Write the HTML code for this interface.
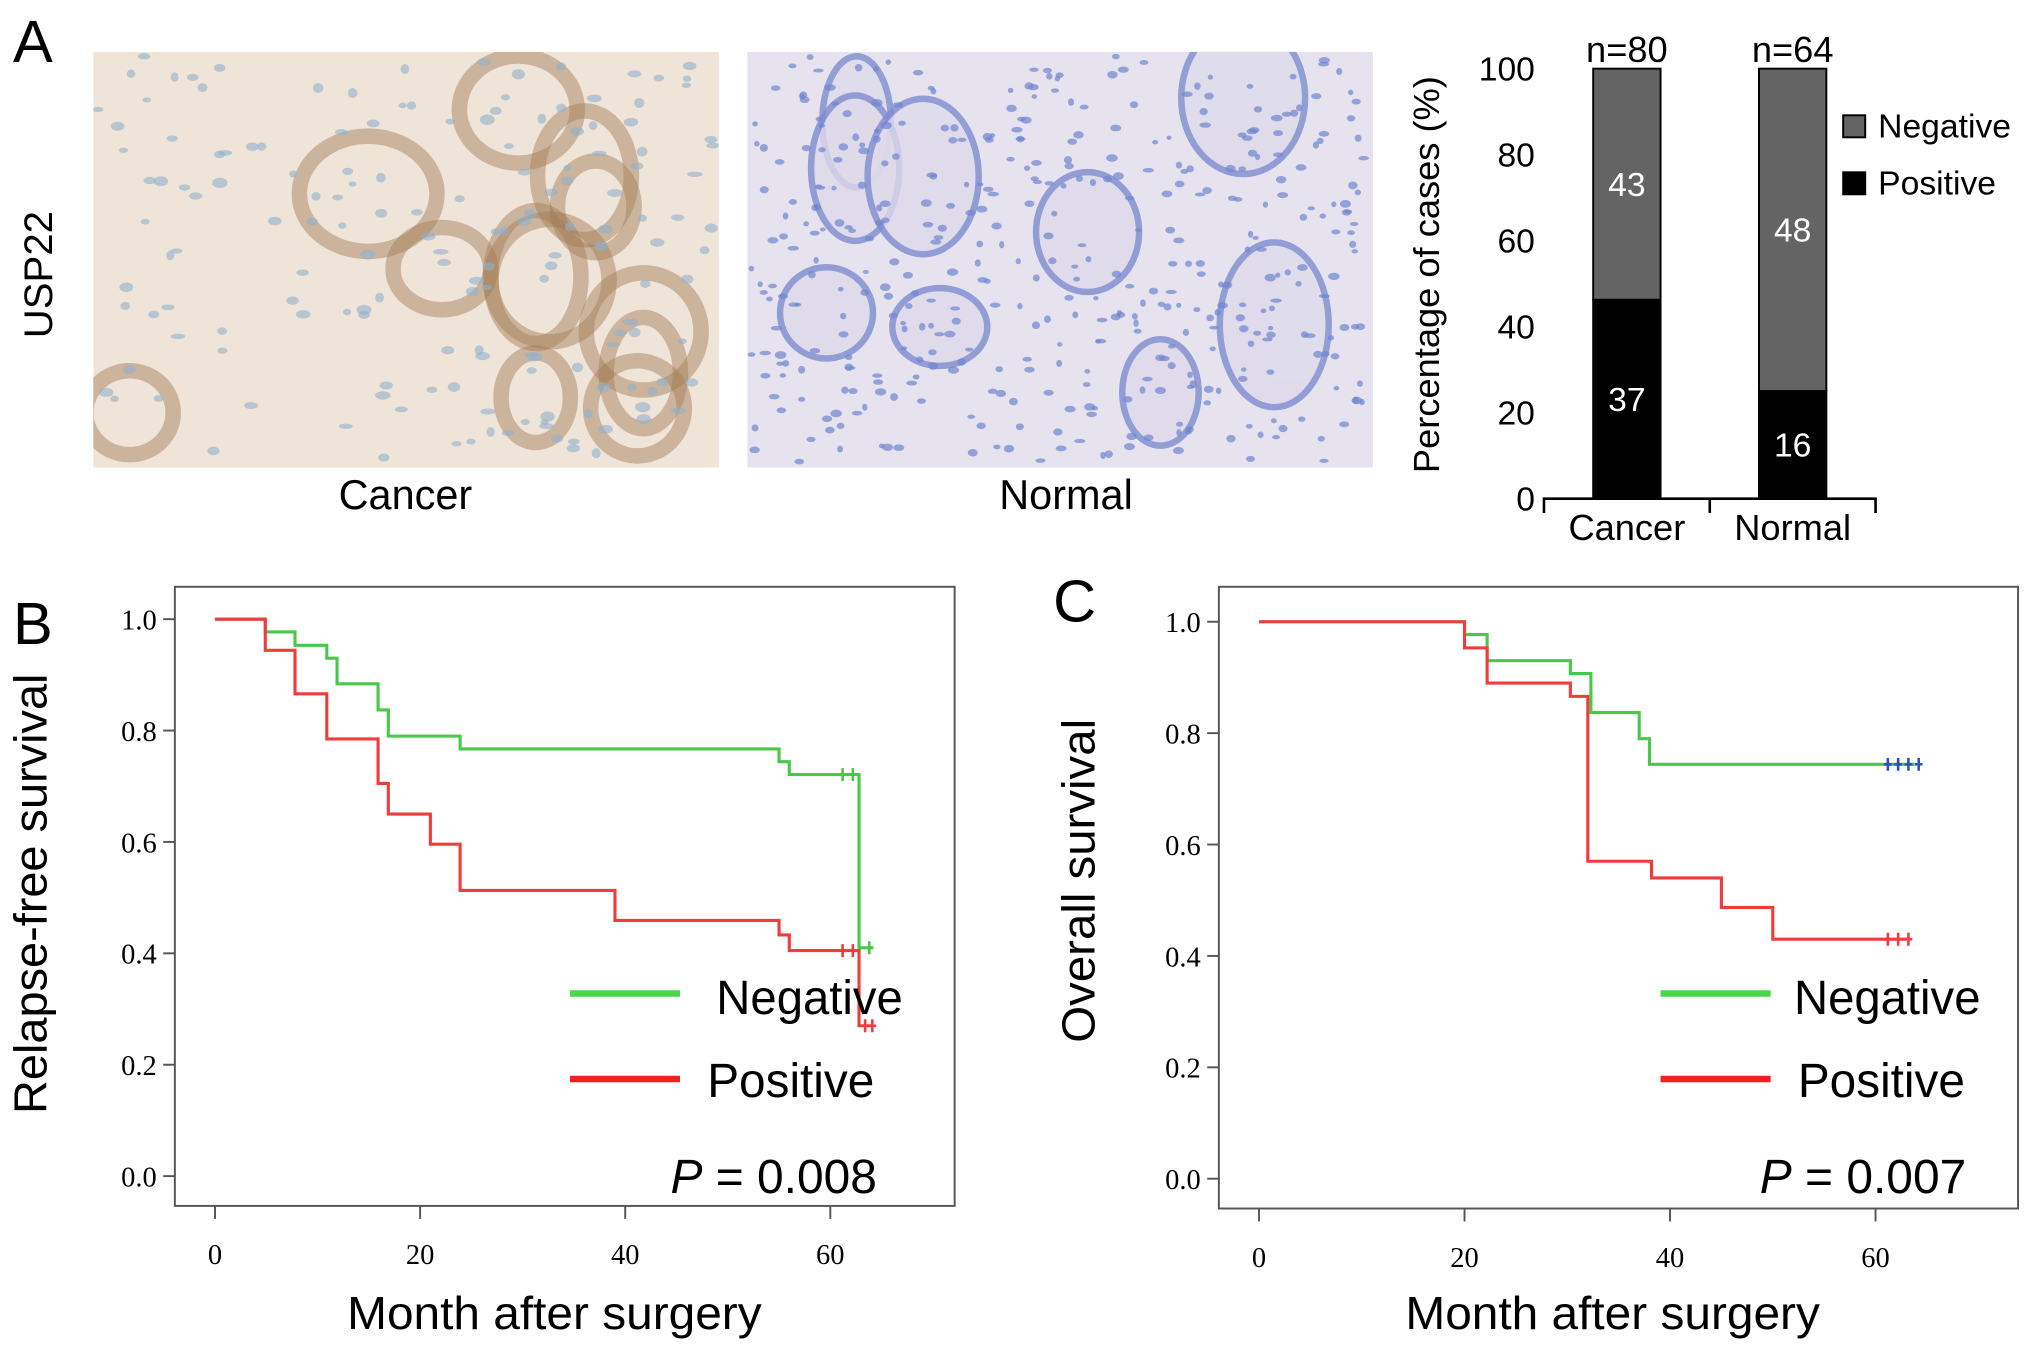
<!DOCTYPE html>
<html><head><meta charset="utf-8"><style>
html,body{margin:0;padding:0;background:#fff;}
svg{display:block;}
text{font-family:"Liberation Sans",sans-serif;}
.serif{font-family:"Liberation Serif",serif;}
</style></head><body>
<svg id="fig" width="2031" height="1351" viewBox="0 0 1568 1043" xmlns="http://www.w3.org/2000/svg">
<defs>
<clipPath id="clipC"><rect x="72" y="40" width="483" height="321"/></clipPath>
<clipPath id="clipN"><rect x="577" y="40" width="483" height="321"/></clipPath>
</defs>
<rect x="0" y="0" width="1568" height="1043" fill="#fff"/>
<text x="10" y="48" font-size="46">A</text>
<text transform="translate(40,212) rotate(-90)" text-anchor="middle" font-size="31">USP22</text>
<g id="cancerImg" clip-path="url(#clipC)"><rect x="72" y="40" width="483" height="321" fill="#efe4d8"/></g>
<g id="normalImg" clip-path="url(#clipN)"><rect x="577" y="40" width="483" height="321" fill="#e6e3ee"/></g>
<text x="313" y="393" text-anchor="middle" font-size="32">Cancer</text>
<text x="823" y="393" text-anchor="middle" font-size="32">Normal</text>
<g id="bar"></g>
<text x="10" y="497" font-size="46">B</text>
<g id="kmB"></g>
<text x="813" y="480" font-size="46">C</text>
<g id="kmC"></g>
</svg>
<script>
// ===== Bar chart data =====
const barCategories = ["Cancer","Normal"];
const barTotals = [80,64];
const barPositive = [37,16];
const barNegative = [43,48];
const barTicks = [0,20,40,60,80,100];

// ===== KM panel B data =====
const bTimesNeg = [0,4.9,7.8,10.9,11.9,15.9,16.9,23.9,55,56,62.8,64.2];
const bSurvNeg  = [1.0,0.977,0.953,0.93,0.884,0.837,0.79,0.767,0.744,0.721,0.41,0.41];
const bCensNeg  = [61.2,62.2,63.8];
const bCensNegS = [0.721,0.721,0.41];
const bTimesPos = [0,4.9,7.8,10.9,15.9,16.9,21,23.9,39,55,56,62.8,64.2];
const bSurvPos  = [1.0,0.944,0.866,0.785,0.705,0.65,0.596,0.513,0.459,0.433,0.405,0.27,0.27];
const bCensPos  = [61.2,62.2,63.4,64.1];
const bCensPosS = [0.405,0.405,0.27,0.27];

// ===== KM panel C data =====
const cTimesNeg = [0,20,22.2,30.3,32.3,37,38,63.8];
const cSurvNeg  = [1.0,0.977,0.93,0.907,0.837,0.79,0.744,0.744];
const cCensNeg  = [61.2,62.2,63.2,64.2];
const cCensNegS = [0.744,0.744,0.744,0.744];
const cTimesPos = [0,20,22.2,30.3,32,38.2,45,50,63];
const cSurvPos  = [1.0,0.953,0.89,0.866,0.57,0.54,0.487,0.43,0.43];
const cCensPos  = [61.2,62.2,63.2];
const cCensPosS = [0.43,0.43,0.43];

const xTicks = [0,20,40,60];
const yTicks = [0.0,0.2,0.4,0.6,0.8,1.0];

const NS="http://www.w3.org/2000/svg";
function mk(tag, attrs, parent){const e=document.createElementNS(NS,tag);for(const k in attrs)e.setAttribute(k,attrs[k]);parent.appendChild(e);return e;}

// decorative tissue textures (deterministic)
(function(){
  let seed=7;function r(){seed=(seed*16807)%2147483647;return seed/2147483647;}
  const c=document.getElementById('cancerImg');
  for(let i=0;i<12;i++){const cx=100+r()*430,cy=70+r()*270;
    const g=mk('ellipse',{cx:cx,cy:cy,rx:25+r()*30,ry:25+r()*35,fill:'none',stroke:'#a27a55','stroke-width':12,opacity:0.45},c);
    
    }
  for(let i=0;i<160;i++){const e=mk('ellipse',{cx:75+r()*477,cy:43+r()*315,rx:3+r()*3,ry:2+r()*2,fill:'#8fb0cc',opacity:0.6},c);
    
    }
  const n=document.getElementById('normalImg');
  for(let i=0;i<9;i++){const cx=610+r()*420,cy=70+r()*270;
    const g=mk('ellipse',{cx:cx,cy:cy,rx:25+r()*25,ry:30+r()*40,fill:'#dedaea',stroke:'#7f8ccf','stroke-width':5,opacity:0.8},n);
    
    }
  for(let i=0;i<420;i++){const e=mk('ellipse',{cx:580+r()*477,cy:43+r()*315,rx:2+r()*2.5,ry:1.5+r()*1.5,fill:'#6f84d0',opacity:0.7},n);
    
    }
})();

// ===== Bar chart =====
(function(){
  const g=document.getElementById('bar');
  const y0=385,y100=53,base=1192,step=128,bw=52;
  const ys=v=>y0-(y0-y100)*v/100;
  barTicks.forEach(t=>{const e=mk('text',{x:1185,y:ys(t)+9,'text-anchor':'end','font-size':26},g);e.textContent=t;
    
    });
  const ax=mk('path',{d:`M${base} ${y0+11}V${y0}H${base+2*step}V${y0+11}M${base+step} ${y0}V${y0+11}`,fill:'none',stroke:'#000','stroke-width':2},g);
  
  
  barCategories.forEach((c,i)=>{
    const cx=base+step*i+step/2, x=cx-bw/2;
    const pp=barPositive[i]/barTotals[i]*100;
    const neg=mk('rect',{x:x,y:y100,width:bw,height:ys(pp)-y100,fill:'#646464',stroke:'#000','stroke-width':1.5},g);
    
    
    const pos=mk('rect',{x:x,y:ys(pp),width:bw,height:y0-ys(pp),fill:'#000',stroke:'#000','stroke-width':1.5},g);
    
    
    const t1=mk('text',{x:cx,y:(y100+ys(pp))/2+9,'text-anchor':'middle','font-size':26,fill:'#fff'},g);t1.textContent=barNegative[i];
    
    
    const t2=mk('text',{x:cx,y:(ys(pp)+y0)/2+9,'text-anchor':'middle','font-size':26,fill:'#fff'},g);t2.textContent=barPositive[i];
    
    
    const tn=mk('text',{x:cx,y:y100-5,'text-anchor':'middle','font-size':28},g);tn.textContent='n='+barTotals[i];
    
    
    const tc=mk('text',{x:cx,y:417,'text-anchor':'middle','font-size':28},g);tc.textContent=c;
    
    
  });
  const yt=mk('text',{transform:'translate(1111,212) rotate(-90)','text-anchor':'middle','font-size':28},g);yt.textContent='Percentage of cases (%)';
  
  
  [['Negative','#646464',89],['Positive','#000',133]].forEach(([l,f,y])=>{
    const s=mk('rect',{x:1423,y:y,width:17,height:17,fill:f,stroke:'#000','stroke-width':1.5},g);
    
    
    const t=mk('text',{x:1450,y:y+17,'font-size':26},g);t.textContent=l;
    
    
  });
})();

// ===== KM charts =====
function km(gid,cfg){
  const g=document.getElementById(gid);
  const xs=m=>cfg.x0+m*cfg.px; const ys=s=>cfg.y0-s*cfg.py;
  const fr=mk('rect',{x:cfg.bx,y:cfg.by,width:cfg.bw,height:cfg.bh,fill:'none',stroke:'#555','stroke-width':1.5},g);
  
  
  yTicks.forEach(t=>{
    const l=mk('line',{x1:cfg.bx-9,x2:cfg.bx,y1:ys(t),y2:ys(t),stroke:'#555','stroke-width':1.5},g);
    
    
    const e=mk('text',{x:cfg.bx-14,y:ys(t)+8,'text-anchor':'end','font-size':22,class:'serif'},g);e.textContent=t.toFixed(1);
    
    
  });
  xTicks.forEach(t=>{
    const l=mk('line',{x1:xs(t),x2:xs(t),y1:cfg.by+cfg.bh,y2:cfg.by+cfg.bh+10,stroke:'#555','stroke-width':1.5},g);
    
    
    const e=mk('text',{x:xs(t),y:cfg.by+cfg.bh+45,'text-anchor':'middle','font-size':22,class:'serif'},g);e.textContent=t;
    
    
  });
  function curve(T,S,CT,CS,color,ccolor,name){
    let d=`M${xs(T[0])} ${ys(S[0])}`;
    for(let i=1;i<T.length;i++){d+=`H${xs(T[i])}V${ys(S[i])}`;}
    const p=mk('path',{d:d,fill:'none',stroke:color,'stroke-width':2.4},g);
    
    
    CT.forEach((t,i)=>{
      const c=mk('path',{d:`M${xs(t)} ${ys(CS[i])-5}v10M${xs(t)-3} ${ys(CS[i])}h6`,stroke:ccolor,'stroke-width':2},g);
      
      
    });
  }
  curve(cfg.tn,cfg.sn,cfg.cn,cfg.cns,'#48c848',cfg.negCens,'negative');
  curve(cfg.tp,cfg.sp,cfg.cp,cfg.cps,'#f03c3c','#f03c3c','positive');
  const xt=mk('text',{x:cfg.xtx,y:1026,'text-anchor':'middle','font-size':36,textLength:320,lengthAdjust:'spacingAndGlyphs'},g);xt.textContent='Month after surgery';
  
  
  const yt=mk('text',{transform:`translate(${cfg.ytx},${cfg.yty}) rotate(-90)`,'text-anchor':'middle','font-size':36,textLength:cfg.ytl,lengthAdjust:'spacingAndGlyphs'},g);yt.textContent=cfg.ytitle;
  
  
  const l1=mk('line',{x1:cfg.lx,x2:cfg.lx+85,y1:767,y2:767,stroke:'#48d848','stroke-width':5},g);
  
  
  const t1=mk('text',{x:cfg.lx+cfg.nOff,y:783,'font-size':37,textLength:144,lengthAdjust:'spacingAndGlyphs'},g);t1.textContent='Negative';
  
  
  const l2=mk('line',{x1:cfg.lx,x2:cfg.lx+85,y1:833,y2:833,stroke:'#f02020','stroke-width':5},g);
  
  
  const t2=mk('text',{x:cfg.lx+106,y:847,'font-size':37,textLength:129,lengthAdjust:'spacingAndGlyphs'},g);t2.textContent='Positive';
  
  
  const pt=mk('text',{x:cfg.px_,y:cfg.pyy,'text-anchor':'end','font-size':37},g);
  pt.innerHTML='<tspan font-style="italic">P</tspan> = '+cfg.p;
  
  
}
km('kmB',{x0:166,px:7.917,y0:908,py:430,bx:135,by:453,bw:602,bh:478,
  tn:bTimesNeg,sn:bSurvNeg,cn:bCensNeg,cns:bCensNegS,tp:bTimesPos,sp:bSurvPos,cp:bCensPos,cps:bCensPosS,negCens:'#48c848',
  xtx:428,ytx:36,yty:690,ytl:340,ytitle:'Relapse-free survival',lx:440,nOff:113,px_:677,pyy:921,p:'0.008'});
km('kmC',{x0:972,px:7.933,y0:910,py:430,bx:941,by:453,bw:617,bh:480,
  tn:cTimesNeg,sn:cSurvNeg,cn:cCensNeg,cns:cCensNegS,tp:cTimesPos,sp:cSurvPos,cp:cCensPos,cps:cCensPosS,negCens:'#3050c0',
  xtx:1245,ytx:845,yty:680,ytl:250,ytitle:'Overall survival',lx:1282,nOff:103,px_:1518,pyy:921,p:'0.007'});
</script>
</body></html>
